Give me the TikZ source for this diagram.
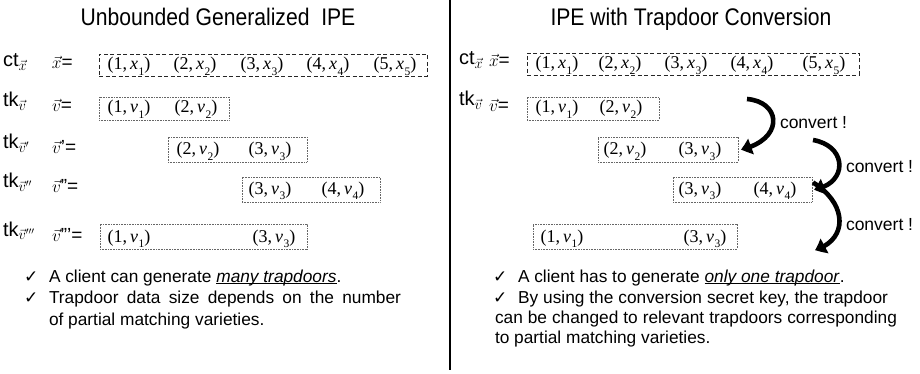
\documentclass[tikz,border=0pt]{standalone}
\usepackage{fontspec}
\setmainfont{Liberation Sans}
\newfontfamily\titlefont[FakeStretch=0.88]{Liberation Sans}
\newfontfamily\checkfont{DejaVu Sans}
\newfontfamily\tupfont{Liberation Serif}
\usetikzlibrary{arrows.meta,bending}
% an index/value pair such as (1, x_1)
\newcommand{\pairtxt}[2]{{\tupfont(#1,\,\textit{#2}\kern0.5pt\raisebox{-0.28em}{\fontsize{11.5}{11.5}\selectfont #1})}}
% underline sitting just below the baseline
\newsavebox{\ulbox}
\newcommand{\undertext}[1]{\sbox{\ulbox}{#1}\rlap{\rule[-2.2pt]{\wd\ulbox}{0.9pt}}\usebox{\ulbox}}

\begin{document}
\begin{tikzpicture}[x=1pt,y=-1pt,
  every node/.style={inner sep=0pt,outer sep=0pt},
  title/.style={font=\titlefont\fontsize{24}{24}\selectfont,anchor=base},
  lab/.style={font=\fontsize{20}{20}\selectfont,anchor=base west},
  eqlab/.style={font=\fontsize{19}{19}\selectfont,anchor=base west},
  tup/.style={font=\fontsize{18}{18}\selectfont,anchor=base},
  ctbox/.style={draw=black!85,line width=0.9pt,dash pattern=on 4pt off 2.5pt,anchor=north west},
  tkbox/.style={draw=black!60,line width=0.9pt,dash pattern=on 0.8pt off 0.8pt,anchor=north west},
  body/.style={font=\fontsize{17.3}{20.5}\selectfont,anchor=base west},
  tick/.style={font=\checkfont\fontsize{17}{17}\selectfont,anchor=base west},
  conv/.style={line width=4.6pt,-{Triangle[width=16pt,length=10.5pt,bend]}},
  convlab/.style={font=\fontsize{17.5}{17.5}\selectfont,anchor=base west}
]
\useasboundingbox (0,0) rectangle (920,374);

% column divider and headings
\draw[line width=1.4pt] (450,0) -- (450,370);
\node[title] (tl) at (218,26) {Unbounded Generalized\ \ IPE};
\node[title] (tr) at (691,26) {IPE with Trapdoor Conversion};

% ---------------- left: unbounded generalized IPE ----------------
\node[lab] (lct) at (3,67) {ct$_{\vec x}$};
\node[eqlab] (lxe) at (52,69) {$\vec x$=};
\node[ctbox,minimum width=328,minimum height=22] (lX) at (99,54) {};
\foreach \c/\i in {129/1,195/2,262/3,328/4,395/5}
  \node[tup] at (\c,70) {\pairtxt{\i}{x}};

\node[lab] (ltk1) at (3,107) {tk$_{\vec v}$};
\node[eqlab] (lve1) at (52,112) {$\vec v$=};
\node[tkbox,minimum width=130,minimum height=23] (lV1) at (99,97) {};
\node[tup] at (129,113) {\pairtxt{1}{v}};
\node[tup] at (196,113) {\pairtxt{2}{v}};

\node[lab] (ltk2) at (3,149) {tk$_{\vec v'}$};
\node[eqlab] (lve2) at (52,154) {$\vec v$'=};
\node[tkbox,minimum width=139,minimum height=25] (lV2) at (168,137) {};
\node[tup] at (198,155) {\pairtxt{2}{v}};
\node[tup] at (270,155) {\pairtxt{3}{v}};

\node[lab] (ltk3) at (3,188) {tk$_{\vec v''}$};
\node[eqlab] (lve3) at (52,193) {$\vec v$''=};
\node[tkbox,minimum width=138,minimum height=25] (lV3) at (242,177) {};
\node[tup] at (270,194) {\pairtxt{3}{v}};
\node[tup] at (343,194) {\pairtxt{4}{v}};

\node[lab] (ltk4) at (3,236) {tk$_{\vec v'''}$};
\node[eqlab] (lve4) at (52,241) {$\vec v$'''=};
\node[tkbox,minimum width=207,minimum height=25] (lV4) at (100,224) {};
\node[tup] at (129,242) {\pairtxt{1}{v}};
\node[tup] at (274,242) {\pairtxt{3}{v}};

\node[tick] (lc1) at (24,282) {✓};
\node[body] (lb1) at (49,282) {A client can generate \undertext{\textit{many trapdoors}}.};
\node[tick] (lc2) at (24,303) {✓};
\node[body] (lb2) at (49,303) {\makebox[352pt][s]{Trapdoor data size depends on the number}};
\node[body] (lb3) at (49,325) {of partial matching varieties.};

% ---------------- right: IPE with trapdoor conversion ----------------
\node[lab] (rct) at (459,65) {ct$_{\vec x}$};
\node[eqlab] (rxe) at (489,67) {$\vec x$=};
\node[ctbox,minimum width=332,minimum height=22] (rX) at (527,53) {};
\foreach \c/\i in {557/1,620/2,686/3,752/4,824/5}
  \node[tup] at (\c,69) {\pairtxt{\i}{x}};

\node[lab] (rtk1) at (459,106) {tk$_{\vec v}$};
\node[eqlab] (rve1) at (489,112) {$\vec v$=};
\node[tkbox,minimum width=132,minimum height=23] (rV1) at (527,97) {};
\node[tup] at (557,113) {\pairtxt{1}{v}};
\node[tup] at (621,113) {\pairtxt{2}{v}};

\node[tkbox,minimum width=140,minimum height=25] (rV2) at (598,137) {};
\node[tup] at (625,155) {\pairtxt{2}{v}};
\node[tup] at (700,155) {\pairtxt{3}{v}};

\node[tkbox,minimum width=139,minimum height=25] (rV3) at (673,177) {};
\node[tup] at (700,194) {\pairtxt{3}{v}};
\node[tup] at (775,194) {\pairtxt{4}{v}};

\node[tkbox,minimum width=204,minimum height=25] (rV4) at (533,224) {};
\node[tup] at (562,242) {\pairtxt{1}{v}};
\node[tup] at (705,242) {\pairtxt{3}{v}};

% conversion arrows
\coordinate (a1s) at (747,99);
\coordinate (a2s) at (813,140);
\coordinate (a3e) at (815,250);
\draw[conv] (a1s) .. controls (782,102) and (784,140) .. ([xshift=3pt]rV2.east);
\draw[conv] (a2s) .. controls (848,146) and (848,184) .. ([xshift=2pt]rV3.east);
\draw[conv] ([xshift=1pt,yshift=7pt]rV3.east) .. controls (848,204) and (848,240) .. (a3e);
\node[convlab] (cv1) at (780,129) {convert !};
\node[convlab] (cv2) at (846,172) {convert !};
\node[convlab] (cv3) at (846,230) {convert !};

\node[tick] (rc1) at (493,282) {✓};
\node[body] (rb1) at (518,282) {A client has to generate \undertext{\textit{only one trapdoor}}.};
\node[tick] (rc2) at (493,303) {✓};
\node[body] (rb2) at (518,303) {\makebox[370pt][s]{By using the conversion secret key, the trapdoor}};
\node[body] (rb3) at (495,323) {\makebox[402pt][s]{can be changed to relevant trapdoors corresponding}};
\node[body] (rb4) at (495,343) {to partial matching varieties.};
\end{tikzpicture}
\end{document}
